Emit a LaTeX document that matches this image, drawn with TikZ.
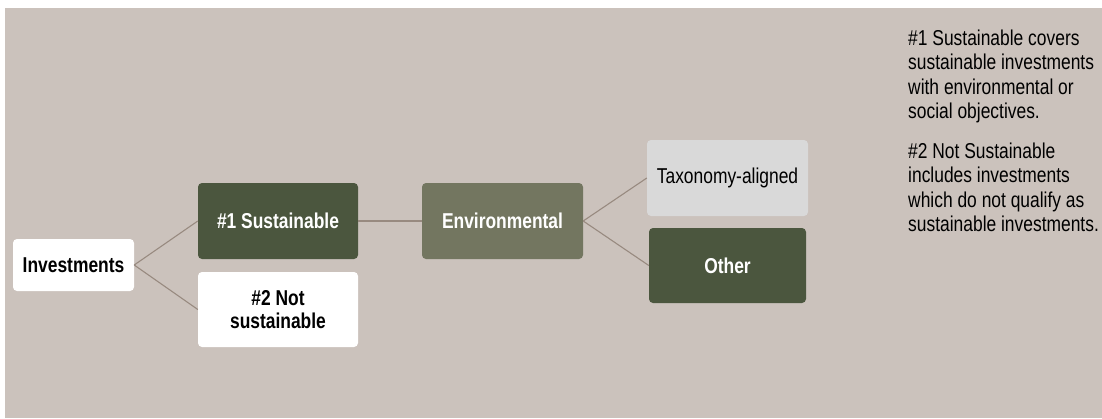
\documentclass[tikz,border=0pt]{standalone}
\usepackage{graphicx}
\usepackage{fontspec}
\setmainfont{Liberation Sans}
\usepackage{tikz}
\usetikzlibrary{positioning}
\definecolor{bgtaupe}{RGB}{203,194,188}
\definecolor{darkgreen}{RGB}{75,86,62}
\definecolor{envgreen}{RGB}{115,118,96}
\definecolor{lightgrey}{RGB}{217,217,217}
\definecolor{linktaupe}{RGB}{152,138,128}
\newcommand{\narrowtext}[1]{\scalebox{.81}[1]{#1}}
\begin{document}
\begin{tikzpicture}[x = 1pt, y = -1pt,
  box/.style = {rounded corners = 4pt, inner sep = 0, align = center, font = \fontsize{21.5}{23}\selectfont},
  note/.style = {anchor = base west, inner sep = 0, align = left, font = \fontsize{21.5}{24.5}\selectfont},
  link/.style = {linktaupe, line width = 1.1pt}]
 \useasboundingbox (0, 0) rectangle (1102, 418);
 \fill[bgtaupe] (5, 8) rectangle (1102, 418);
  \node (inv) at (73.5, 265) [box, fill = white, minimum width = 121, minimum height = 52] {\bfseries\narrowtext{Investments}};
  \node (sus) at (278, 221) [box, fill = darkgreen, text = white, minimum width = 160, minimum height = 76] {\bfseries\narrowtext{\#1 Sustainable}};
  \node (notsus) at (278, 309.5) [box, fill = white, minimum width = 160, minimum height = 75] {\bfseries\narrowtext{\#2 Not}\\\bfseries\narrowtext{sustainable}};
  \node (env) at (502.5, 221) [box, fill = envgreen, text = white, minimum width = 161, minimum height = 76] {\bfseries\narrowtext{Environmental}};
  \node (tax) at (727.5, 178) [box, fill = lightgrey, minimum width = 161, minimum height = 76] {\narrowtext{Taxonomy-aligned}};
  \node (oth) at (727.5, 265.5) [box, fill = darkgreen, text = white, minimum width = 157, minimum height = 75] {\bfseries\narrowtext{Other}};
  \draw[link] (inv.east) -- (sus.west);
  \draw[link] (inv.east) -- (notsus.west);
  \draw[link] (sus.east) -- (env.west);
  \draw[link] (env.east) -- (tax.west);
  \draw[link] (env.east) -- (oth.west);
  % base anchor sits on the last line
  \node (note1) at (908, 118.5) [note] {\narrowtext{\#1 Sustainable covers}\\\narrowtext{sustainable investments}\\\narrowtext{with environmental or}\\\narrowtext{social objectives.}};
  \node (note2) at (908, 231.5) [note] {\narrowtext{\#2 Not Sustainable}\\\narrowtext{includes investments}\\\narrowtext{which do not qualify as}\\\narrowtext{sustainable investments.}};
 \end{tikzpicture}
\end{document}
